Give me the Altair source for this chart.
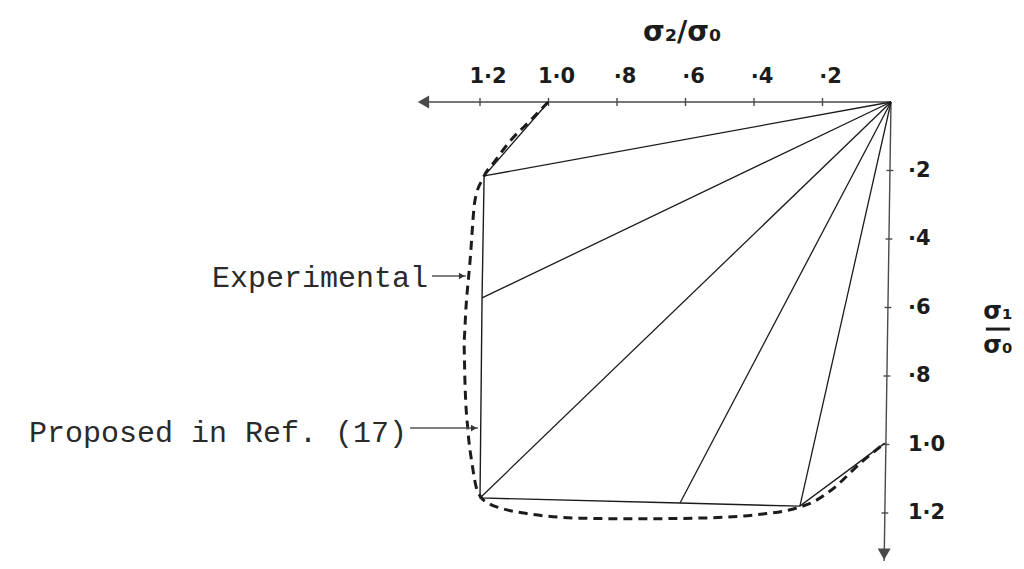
import altair as alt
import pandas as pd

# ---------------- data (sigma2/sigma0 to the left, sigma1/sigma0 downward) ----------------
tick_vals = [0.2, 0.4, 0.6, 0.8, 1.0, 1.2]
x_tick_labels = ["·2", "·4", "·6", "·8", "1·0", "1·2"]
y_tick_labels = ["·2", "·4", "·6", "·8", "1·0", "1·2"]

# experimental yield locus (solid polygon A..G)
exp_x = [1.00, 1.188, 1.194, 1.200, 0.616, 0.266, 0.018]
exp_y = [0.00, 0.216, 0.572, 1.156, 1.171, 1.180, 0.996]
radial_idx = [1, 2, 3, 4, 5]  # B..F joined to the origin

# proposed locus, Ref. (17) (dashed curve)
prop_x = [1.001, 1.054, 1.112, 1.156, 1.191, 1.215, 1.229, 1.241, 1.247, 1.244, 1.235,
          1.223, 1.212, 1.200, 1.171, 1.142, 1.054, 0.908, 0.762, 0.566, 0.374, 0.274,
          0.222, 0.178, 0.082, 0.018]
prop_y = [0.000, 0.055, 0.114, 0.172, 0.222, 0.289, 0.464, 0.601, 0.698, 0.815, 0.961,
          1.057, 1.121, 1.150, 1.174, 1.185, 1.203, 1.215, 1.217, 1.215, 1.203, 1.185,
          1.165, 1.136, 1.048, 0.996]

# axes
x_axis_end = 1.37
y_axis_end = [0.02, 1.34]

# annotations
ann_text = ["Experimental", "Proposed in Ref. (17)"]
ann_tx = [1.352, 1.413]
ann_ty = [0.514, 0.966]
ann_ax1 = [1.340, 1.404]
ann_ax2 = [1.241, 1.206]
ann_ay = [0.508, 0.952]

title_x_text = "σ₂/σ₀"
title_x_pos = [0.610, -0.201]
title_y_top = "σ₁"
title_y_bot = "σ₀"
title_y_pos = [-0.312, 0.613, 0.663, 0.712]

# ---------------- scales mapping data to the page ----------------
S = 342.5
OX, OY, M = 891, 102, 8
W, H = 1008, 553
xdom = [(OX - M - W) / S, (OX - M) / S]
ydom = [-(OY - M) / S, (H - (OY - M)) / S]
xs = alt.Scale(domain=xdom, reverse=True, nice=False, zero=False)
ys = alt.Scale(domain=ydom, reverse=True, nice=False, zero=False)


def X(f="x"):
    return alt.X(f"{f}:Q", scale=xs, axis=None)


def Y(f="y"):
    return alt.Y(f"{f}:Q", scale=ys, axis=None)


INK = "#1c1c1c"
AX = "#4a4a4a"
HAND = "DejaVu Sans"
MONO = "Liberation Mono"

layers = []

# axes lines
axes_df = pd.DataFrame({
    "x": [0.0, 0.0], "y": [0.0, 0.0],
    "x2": [x_axis_end, y_axis_end[0]], "y2": [0.0, y_axis_end[1]],
})
layers.append(alt.Chart(axes_df).mark_rule(color=AX, strokeWidth=1.4).encode(
    x=X(), y=Y(), x2="x2:Q", y2="y2:Q"))

# arrow heads on axes
heads = pd.DataFrame({"x": [x_axis_end - 0.005, y_axis_end[0]],
                      "y": [0.0, y_axis_end[1] - 0.02],
                      "shape": ["triangle-left", "triangle-down"]})
layers.append(alt.Chart(heads).mark_point(filled=True, color=AX, size=170, opacity=1).encode(
    x=X(), y=Y(), shape=alt.Shape("shape:N", scale=None, legend=None)))

# tick marks
tx = pd.DataFrame({"x": tick_vals, "y": [-0.012] * 6, "y2": [0.012] * 6})
layers.append(alt.Chart(tx).mark_rule(color=AX, strokeWidth=1.4).encode(
    x=X(), y=Y(), y2="y2:Q"))
ty = pd.DataFrame({"y": tick_vals,
                   "x": [y_axis_end[0] * v / y_axis_end[1] - 0.010 for v in tick_vals],
                   "x2": [y_axis_end[0] * v / y_axis_end[1] + 0.010 for v in tick_vals]})
layers.append(alt.Chart(ty).mark_rule(color=AX, strokeWidth=1.4).encode(
    x=X(), y=Y(), x2="x2:Q"))

# tick labels
xl = pd.DataFrame({"x": tick_vals, "t": x_tick_labels})
layers.append(alt.Chart(xl).mark_text(font=HAND, fontSize=21, fontWeight="bold", color=INK,
                                      dx=8, baseline="middle", align="center").encode(
    x=X(), y=alt.value(69), text="t:N"))
yl = pd.DataFrame({"y": tick_vals, "t": y_tick_labels})
layers.append(alt.Chart(yl).mark_text(font=HAND, fontSize=21, fontWeight="bold", color=INK,
                                      baseline="middle", align="left").encode(
    x=alt.value(900), y=Y(), text="t:N"))

# radial lines from origin
rad = pd.DataFrame({"x": [0.0] * len(radial_idx), "y": [0.0] * len(radial_idx),
                    "x2": [exp_x[i] for i in radial_idx], "y2": [exp_y[i] for i in radial_idx]})
layers.append(alt.Chart(rad).mark_rule(color=INK, strokeWidth=1.3).encode(
    x=X(), y=Y(), x2="x2:Q", y2="y2:Q"))

# experimental locus
exp_df = pd.DataFrame({"x": exp_x, "y": exp_y, "i": range(len(exp_x))})
layers.append(alt.Chart(exp_df).mark_line(color=INK, strokeWidth=1.4).encode(
    x=X(), y=Y(), order="i:Q"))

# proposed locus (dashed)
prop_df = pd.DataFrame({"x": prop_x, "y": prop_y, "i": range(len(prop_x))})
layers.append(alt.Chart(prop_df).mark_line(color=INK, strokeWidth=3, strokeDash=[9, 6],
                                           interpolate="monotone").encode(
    x=X(), y=Y(), order="i:Q"))

# annotations
ann = pd.DataFrame({"x": ann_tx, "y": ann_ty, "t": ann_text})
layers.append(alt.Chart(ann).mark_text(font=MONO, fontSize=30, color="#2a2a2a",
                                       align="right", baseline="middle").encode(
    x=X(), y=Y(), text="t:N"))
arr = pd.DataFrame({"x": ann_ax1, "x2": ann_ax2, "y": ann_ay})
layers.append(alt.Chart(arr).mark_rule(color="#555555", strokeWidth=1.6).encode(
    x=X(), y=Y(), x2="x2:Q"))
arrh = pd.DataFrame({"x": [v + 0.012 for v in ann_ax2], "y": ann_ay})
layers.append(alt.Chart(arrh).mark_point(shape="triangle-right", filled=True, color="#333333",
                                         size=45, opacity=1).encode(x=X(), y=Y()))

# axis titles
t1 = pd.DataFrame({"x": [title_x_pos[0]], "y": [title_x_pos[1]], "t": [title_x_text]})
layers.append(alt.Chart(t1).mark_text(font=HAND, fontSize=28, fontWeight="bold", color=INK,
                                      baseline="middle").encode(x=X(), y=Y(), text="t:N"))
t2 = pd.DataFrame({"x": [title_y_pos[0]] * 2, "y": [title_y_pos[1], title_y_pos[3]],
                   "t": [title_y_top, title_y_bot]})
layers.append(alt.Chart(t2).mark_text(font=HAND, fontSize=24, fontWeight="bold", color=INK,
                                      baseline="middle").encode(x=X(), y=Y(), text="t:N"))
bar = pd.DataFrame({"x": [title_y_pos[0] + 0.035], "x2": [title_y_pos[0] - 0.035],
                    "y": [title_y_pos[2]]})
layers.append(alt.Chart(bar).mark_rule(color=INK, strokeWidth=3).encode(
    x=X(), y=Y(), x2="x2:Q"))

chart = alt.layer(*layers).properties(
    width=W, height=H, padding=0, background="white",
    autosize=alt.AutoSizeParams(type="none"),
).configure_view(stroke=None)

chart.save("out.html", embed_options={"renderer": "svg", "actions": False})
